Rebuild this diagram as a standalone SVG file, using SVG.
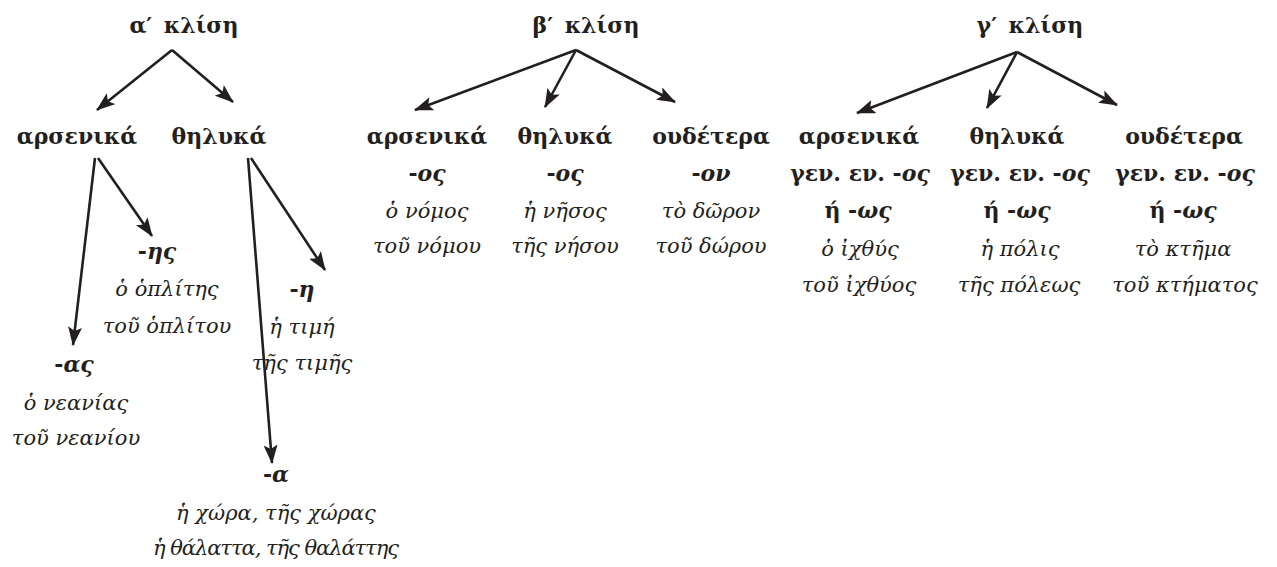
<svg xmlns="http://www.w3.org/2000/svg" width="1277" height="567" viewBox="0 0 1277 567">
  <defs>
    <marker id="head" viewBox="0 0 19 14" refX="18" refY="7" markerWidth="19" markerHeight="14" markerUnits="userSpaceOnUse" orient="auto">
      <path d="M0,0 L19,7 L0,14 L4,7 Z" fill="#231f20"/>
    </marker>
    <style>
      text { font-family: "DejaVu Serif", "Liberation Serif", serif; fill: #231f20; text-anchor: middle; font-size: 21px; }
      .b { font-weight: bold; font-size: 22px; }
      .bi { font-weight: bold; font-style: italic; font-size: 22px; }
      .i { font-style: italic; }
      .title { word-spacing: 4px; }
      .edge { stroke: #231f20; stroke-width: 2.6; fill: none; marker-end: url(#head); }
    </style>
  </defs>
  <rect width="1277" height="567" fill="#ffffff"/>

  <!-- connectors -->
  <g id="connectors">
    <line class="edge" x1="172" y1="50" x2="97" y2="110"/>
    <line class="edge" x1="172" y1="50" x2="233" y2="102"/>
    <line class="edge" x1="576" y1="50" x2="415" y2="110"/>
    <line class="edge" x1="576" y1="50" x2="545" y2="107"/>
    <line class="edge" x1="576" y1="50" x2="675" y2="102"/>
    <line class="edge" x1="1017" y1="52" x2="857" y2="113"/>
    <line class="edge" x1="1017" y1="52" x2="987" y2="108"/>
    <line class="edge" x1="1017" y1="52" x2="1117" y2="105"/>
    <line class="edge" x1="95" y1="158" x2="73" y2="345"/>
    <line class="edge" x1="98" y1="158" x2="152" y2="236"/>
    <line class="edge" x1="248" y1="158" x2="272" y2="463"/>
    <line class="edge" x1="251" y1="158" x2="325" y2="270"/>
  </g>

  <!-- first declension -->
  <g id="decl-a">
    <text class="b title" x="184" y="33">α′ κλίση</text>
  </g>
  <g id="decl-a-masc">
    <text class="b" x="77" y="144">αρσενικά</text>
  </g>
  <g id="decl-a-fem">
    <text class="b" x="219" y="144">θηλυκά</text>
  </g>
  <g id="decl-a-masc-hs">
    <text x="157" y="259"><tspan class="b">-</tspan><tspan class="bi">ης</tspan></text>
    <text class="i" x="167" y="296">ὁ ὁπλίτης</text>
    <text class="i" x="167" y="333">τοῦ ὁπλίτου</text>
  </g>
  <g id="decl-a-masc-as">
    <text x="74" y="372"><tspan class="b">-</tspan><tspan class="bi">ας</tspan></text>
    <text class="i" x="76" y="410">ὁ νεανίας</text>
    <text class="i" x="76" y="445">τοῦ νεανίου</text>
  </g>
  <g id="decl-a-fem-h">
    <text x="302" y="297"><tspan class="b">-</tspan><tspan class="bi">η</tspan></text>
    <text class="i" x="302" y="334">ἡ τιμή</text>
    <text class="i" x="302" y="370">τῆς τιμῆς</text>
  </g>
  <g id="decl-a-fem-a">
    <text x="276" y="482"><tspan class="b">-</tspan><tspan class="bi">α</tspan></text>
    <text class="i" x="276" y="520">ἡ χώρα, τῆς χώρας</text>
    <text class="i" x="276" y="555" textLength="246">ἡ θάλαττα, τῆς θαλάττης</text>
  </g>

  <!-- second declension -->
  <g id="decl-b">
    <text class="b title" x="586" y="33">β′ κλίση</text>
  </g>
  <g id="decl-b-masc">
    <text class="b" x="427" y="144">αρσενικά</text>
    <text x="427" y="181"><tspan class="b">-</tspan><tspan class="bi">ος</tspan></text>
    <text class="i" x="427" y="218">ὁ νόμος</text>
    <text class="i" x="427" y="253">τοῦ νόμου</text>
  </g>
  <g id="decl-b-fem">
    <text class="b" x="565" y="144">θηλυκά</text>
    <text x="565" y="181"><tspan class="b">-</tspan><tspan class="bi">ος</tspan></text>
    <text class="i" x="565" y="218">ἡ νῆσος</text>
    <text class="i" x="565" y="253">τῆς νήσου</text>
  </g>
  <g id="decl-b-neut">
    <text class="b" x="711" y="144">ουδέτερα</text>
    <text x="711" y="181"><tspan class="b">-</tspan><tspan class="bi">ον</tspan></text>
    <text class="i" x="711" y="218">τὸ δῶρον</text>
    <text class="i" x="711" y="253">τοῦ δώρου</text>
  </g>

  <!-- third declension -->
  <g id="decl-c">
    <text class="b title" x="1030" y="33">γ′ κλίση</text>
  </g>
  <g id="decl-c-masc">
    <text class="b" x="859" y="144">αρσενικά</text>
    <text x="860" y="181"><tspan class="b">γεν. εν. -</tspan><tspan class="bi">ος</tspan></text>
    <text x="858" y="218"><tspan class="b">ή -</tspan><tspan class="bi">ως</tspan></text>
    <text class="i" x="860" y="256">ὁ ἰχθύς</text>
    <text class="i" x="859" y="292">τοῦ ἰχθύος</text>
  </g>
  <g id="decl-c-fem">
    <text class="b" x="1017" y="144">θηλυκά</text>
    <text x="1020" y="181"><tspan class="b">γεν. εν. -</tspan><tspan class="bi">ος</tspan></text>
    <text x="1017" y="218"><tspan class="b">ή -</tspan><tspan class="bi">ως</tspan></text>
    <text class="i" x="1020" y="256">ἡ πόλις</text>
    <text class="i" x="1019" y="292">τῆς πόλεως</text>
  </g>
  <g id="decl-c-neut">
    <text class="b" x="1184" y="144">ουδέτερα</text>
    <text x="1185" y="181"><tspan class="b">γεν. εν. -</tspan><tspan class="bi">ος</tspan></text>
    <text x="1183" y="218"><tspan class="b">ή -</tspan><tspan class="bi">ως</tspan></text>
    <text class="i" x="1183" y="256">τὸ κτῆμα</text>
    <text class="i" x="1185" y="292">τοῦ κτήματος</text>
  </g>
</svg>
